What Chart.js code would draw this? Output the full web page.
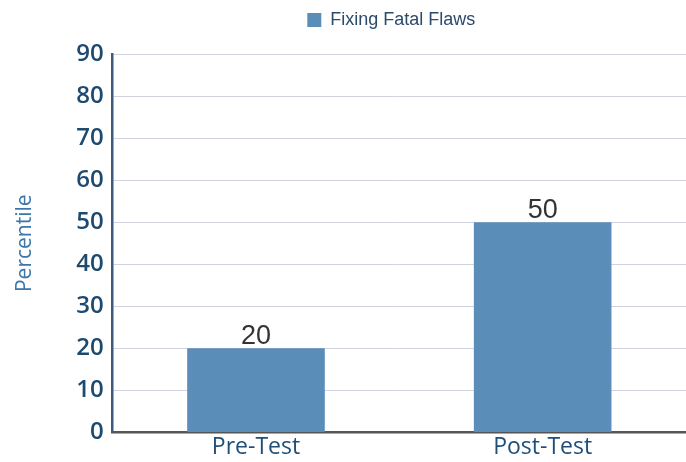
<!DOCTYPE html>
<html lang="en">
<head>
  <meta charset="UTF-8">
  <title>Fixing Fatal Flaws</title>
  <script src="https://cdn.jsdelivr.net/npm/chart.js"></script>
  <style>
    html, body { margin: 0; padding: 0; background: #fff; }
    #wrap { width: 686px; height: 462px; }
  </style>
</head>
<body>
  <div id="wrap"><canvas id="myChart"></canvas></div>

  <script>
    const categories = ['Pre-Test', 'Post-Test'];
    const seriesName = 'Fixing Fatal Flaws';
    const seriesValues = [20, 50];
    const yTicks = [0, 10, 20, 30, 40, 50, 60, 70, 80, 90];

    // value labels above each bar
    const valueLabels = {
      id: 'valueLabels',
      afterDatasetsDraw(chart) {
        const c = chart.ctx;
        c.save();
        c.font = '27px "Liberation Sans", Arial, sans-serif';
        c.fillStyle = '#333';
        c.textAlign = 'center';
        c.textBaseline = 'bottom';
        chart.getDatasetMeta(0).data.forEach((bar, i) => {
          c.fillText(String(seriesValues[i]), bar.x, bar.y + 2);
        });
        c.restore();
      }
    };

    // center the legend roughly over the plot area and lift it a little
    const shiftLegend = {
      id: 'shiftLegend',
      afterLayout(chart) {
        const lg = chart.legend;
        const area = chart.chartArea;
        const dx = (area.left + area.right) / 2 - (lg.left + lg.right) / 2 - 8;
        lg.left += dx;
        lg.right += dx;
        lg.top -= 15;
        lg.bottom -= 15;
      }
    };

    const ctx = document.getElementById('myChart').getContext('2d');
    new Chart(ctx, {
      type: 'bar',
      data: {
        labels: categories,
        datasets: [{
          label: seriesName,
          data: seriesValues,
          backgroundColor: '#5a8db8',
          borderWidth: 0,
          barPercentage: 0.48,
          categoryPercentage: 1
        }]
      },
      options: {
        responsive: true,
        maintainAspectRatio: false,
        animation: false,
        layout: { padding: { left: 12, right: 0, top: 16, bottom: 0 } },
        plugins: {
          tooltip: { enabled: false },
          legend: {
            position: 'top',
            labels: {
              boxWidth: 14,
              boxHeight: 14,
              padding: 10,
              color: '#2c4a6a',
              font: { family: '"Liberation Sans", Arial, sans-serif', size: 18 }
            }
          }
        },
        scales: {
          x: {
            grid: { display: false, drawTicks: false },
            border: { color: '#555', width: 2.5 },
            ticks: {
              color: '#1f4f78',
              padding: 1,
              font: { family: '"Open Sans", sans-serif', size: 23 }
            }
          },
          y: {
            min: 0,
            max: 90,
            afterBuildTicks(axis) {
              axis.ticks = yTicks.map(v => ({ value: v }));
            },
            grid: { color: '#d2d2de', lineWidth: 1, drawTicks: false },
            border: { color: '#3c5a7a', width: 2.5 },
            ticks: {
              color: '#1e4a70',
              padding: 9,
              font: { family: '"Open Sans", sans-serif', size: 24, weight: '600' }
            },
            title: {
              display: true,
              text: 'Percentile',
              color: '#3c76aa',
              padding: { top: 0, bottom: 30 },
              font: { family: '"Open Sans", sans-serif', size: 21 }
            }
          }
        }
      },
      plugins: [valueLabels, shiftLegend]
    });
  </script>
</body>
</html>
